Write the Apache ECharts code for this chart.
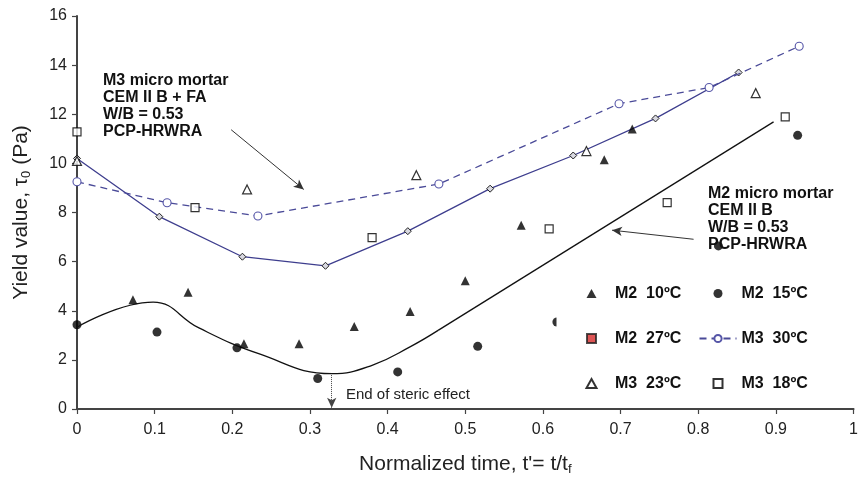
<!DOCTYPE html>
<html>
<head>
<meta charset="utf-8">
<script src="https://cdn.jsdelivr.net/npm/echarts@6/dist/echarts.min.js"></script>
<style>html,body{margin:0;padding:0;background:#fff}#c{width:861px;height:481px}</style>
</head>
<body>
<div id="c"></div>
<script>
// ---- data ----
const xTicks = [0, 0.1, 0.2, 0.3, 0.4, 0.5, 0.6, 0.7, 0.8, 0.9, 1];
const yTicks = [0, 2, 4, 6, 8, 10, 12, 14, 16];

const m2_10_x = [0.072, 0.143, 0.215, 0.286, 0.357, 0.429, 0.500, 0.572, 0.679, 0.715];
const m2_10_y = [4.45, 4.75, 2.66, 2.66, 3.36, 3.97, 5.22, 7.48, 10.15, 11.40];

const m2_15_x = [0, 0.103, 0.206, 0.310, 0.413, 0.516, 0.618, 0.826, 0.928];
const m2_15_y = [3.43, 3.13, 2.49, 1.24, 1.51, 2.55, 3.54, 6.64, 11.14];

const m2_27_x = [];
const m2_27_y = [];

const m3_30_x = [0, 0.116, 0.233, 0.466, 0.698, 0.814, 0.930];
const m3_30_y = [9.25, 8.40, 7.86, 9.16, 12.43, 13.09, 14.77];

const m3_23_x = [0, 0.219, 0.437, 0.656, 0.874];
const m3_23_y = [10.10, 8.94, 9.52, 10.50, 12.86];

const m3_18_x = [0, 0.152, 0.380, 0.608, 0.760, 0.912];
const m3_18_y = [11.28, 8.20, 6.98, 7.33, 8.40, 11.89];

const m3_fit_x = [0, 0.106, 0.213, 0.320, 0.426, 0.532, 0.639, 0.745, 0.852];
const m3_fit_y = [10.20, 7.83, 6.20, 5.83, 7.24, 8.97, 10.32, 11.83, 13.70];

// M2 fitted curve: curved part, then straight part
const m2_curve_x = [0, 0.098, 0.157, 0.234, 0.328, 0.38, 0.43, 0.465];
const m2_curve_y = [3.33, 4.35, 3.30, 2.25, 1.44, 1.78, 2.55, 3.20];
const m2_line_x = [0.465, 0.897];
const m2_line_y = [3.20, 11.69];

const names = ['M2  10ºC', 'M2  15ºC', 'M2  27ºC', 'M3  30ºC', 'M3  23ºC', 'M3  18ºC'];

// annotation anchors (data coordinates)
const arrowM3 = [[0.1985, 11.37], [0.292, 8.94]];
const arrowM2 = [[0.794, 6.91], [0.689, 7.28]];
const arrowSteric = [[0.328, 1.38], [0.328, 0.05]];

const zip = (xs, ys) => xs.map((x, i) => [x, ys[i]]);

const FONT = 'Liberation Sans, Arial, Helvetica, sans-serif';
const BLUE = '#3e3e8e';

const ICON_TRI = 'path://M5,0 L10,9 L0,9 Z';
const ICON_RECT = 'path://M0,0 L10,0 L10,10 L0,10 Z';
const ICON_CIRC = 'path://M5,0 A5,5 0 1 1 4.999,0 Z';

const legendCommon = {
  orient: 'vertical', top: 275.5, backgroundColor: '#fff',
  itemWidth: 37, itemHeight: 9, itemGap: 29, symbolKeepAspect: true,
  textStyle: {fontSize: 16, fontWeight: 'bold', color: '#111', fontFamily: FONT}
};

const chart = echarts.init(document.getElementById('c'), null, {renderer: 'canvas'});
chart.setOption({
  animation: false,
  backgroundColor: '#fff',
  textStyle: {fontFamily: FONT},
  grid: {left: 77, right: 3, top: 16, bottom: 70.5, containLabel: false},
  xAxis: {
    type: 'value', min: 0, max: 1, interval: 0.1,
    name: "Normalized time, t'= t/t{sub|f}",
    nameLocation: 'middle', nameGap: 44,
    nameTextStyle: {fontSize: 21, color: '#222', fontFamily: FONT,
      rich: {sub: {fontSize: 13, color: '#222', fontFamily: FONT, verticalAlign: 'bottom', padding: [10, 0, 0, 0]}}},
    axisLine: {lineStyle: {color: '#444', width: 2}},
    axisTick: {show: true, inside: false, length: 5, lineStyle: {color: '#444', width: 1.2}},
    axisLabel: {fontSize: 16, color: '#222', margin: 13, fontFamily: FONT,
      formatter: v => String(Math.round(v * 10) / 10)},
    splitLine: {show: false}
  },
  yAxis: {
    type: 'value', min: 0, max: 16, interval: 2,
    name: 'Yield value, τ{sub|0} (Pa)',
    nameLocation: 'middle', nameGap: 44,
    nameTextStyle: {fontSize: 21, color: '#222', fontFamily: FONT,
      rich: {sub: {fontSize: 13, color: '#222', fontFamily: FONT, verticalAlign: 'bottom', padding: [10, 0, 0, 0]}}},
    axisLine: {show: true, lineStyle: {color: '#444', width: 2}},
    axisTick: {show: true, inside: false, length: 5, lineStyle: {color: '#444', width: 1.2}},
    axisLabel: {fontSize: 16, color: '#222', margin: 10, fontFamily: FONT},
    splitLine: {show: false}
  },
  legend: [
    Object.assign({}, legendCommon, {
      left: 556.5, padding: [10, 5, 10, 29],
      data: [{name: names[0], icon: ICON_TRI}, {name: names[2], icon: ICON_RECT}, {name: names[4], icon: ICON_TRI}]
    }),
    Object.assign({}, legendCommon, {
      left: 693.5, padding: [10, 5, 10, 5],
      data: [{name: names[1], icon: ICON_CIRC}, {name: names[3]}, {name: names[5], icon: ICON_RECT}]
    })
  ],
  series: [
    {
      name: 'M2 fit', type: 'line', data: zip(m2_curve_x, m2_curve_y),
      smooth: 0.45, showSymbol: false, symbol: 'none',
      lineStyle: {color: '#111', width: 1.3}, z: 3, silent: true,
      markLine: {
        silent: true, symbol: ['none', 'arrow'], symbolSize: [7, 10],
        label: {show: false},
        lineStyle: {color: '#333', width: 1, type: 'solid'},
        data: [
          [{coord: arrowM3[0]}, {coord: arrowM3[1]}],
          [{coord: arrowM2[0]}, {coord: arrowM2[1]}],
          [{coord: arrowSteric[0], lineStyle: {type: 'dotted', color: '#444', width: 1}},
           {coord: arrowSteric[1]}]
        ]
      }
    },
    {
      name: 'M2 fit line', type: 'line', data: zip(m2_line_x, m2_line_y),
      showSymbol: false, symbol: 'none',
      lineStyle: {color: '#111', width: 1.3}, z: 3, silent: true
    },
    {
      name: 'M3 fit', type: 'line', data: zip(m3_fit_x, m3_fit_y),
      symbol: 'diamond', symbolSize: 7,
      lineStyle: {color: BLUE, width: 1.3},
      itemStyle: {color: '#d8d8e0', borderColor: '#222', borderWidth: 1}, z: 4
    },
    {
      name: names[3], type: 'line', data: zip(m3_30_x, m3_30_y),
      symbol: 'circle', symbolSize: 8,
      lineStyle: {color: '#4a4a98', width: 1.3, type: [7, 5]},
      itemStyle: {color: '#fff', borderColor: '#5656a8', borderWidth: 1.1}, z: 5
    },
    {
      name: names[0], type: 'scatter', data: zip(m2_10_x, m2_10_y),
      symbol: 'triangle', symbolSize: 9, itemStyle: {color: '#000'}, z: 6
    },
    {
      name: names[1], type: 'scatter', data: zip(m2_15_x, m2_15_y),
      symbol: 'circle', symbolSize: 9, itemStyle: {color: '#000'}, z: 1
    },
    {
      name: names[2], type: 'scatter', data: zip(m2_27_x, m2_27_y),
      symbol: 'rect', symbolSize: 8, itemStyle: {color: '#d62a2a', borderColor: '#222', borderWidth: 0.8}, z: 6
    },
    {
      name: names[4], type: 'scatter', data: zip(m3_23_x, m3_23_y),
      symbol: 'triangle', symbolSize: 9, itemStyle: {color: '#fff', borderColor: '#000', borderWidth: 1.2}, z: 6
    },
    {
      name: names[5], type: 'scatter', data: zip(m3_18_x, m3_18_y),
      symbol: 'rect', symbolSize: 8, itemStyle: {color: '#fff', borderColor: '#000', borderWidth: 1.2}, z: 6
    }
  ],
  graphic: [
    {type: 'text', left: 103, top: 72, z: 100,
     style: {text: 'M3 micro mortar\nCEM II B + FA\nW/B = 0.53\nPCP-HRWRA', font: 'bold 16px ' + FONT, lineHeight: 17, fill: '#111'}},
    {type: 'text', left: 708, top: 185.5, z: 100,
     style: {text: 'M2 micro mortar\nCEM II B\nW/B = 0.53\nPCP-HRWRA', font: 'bold 16px ' + FONT, lineHeight: 16.8, fill: '#111'}},
    {type: 'text', left: 346, top: 387, z: 100,
     style: {text: 'End of steric effect', font: '15px ' + FONT, fill: '#222'}}
  ]
});
</script>
</body>
</html>
